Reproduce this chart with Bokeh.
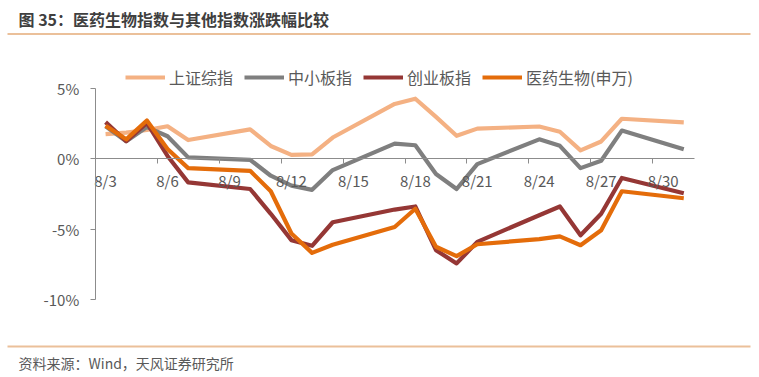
import pandas as pd
from bokeh.plotting import figure
from bokeh.models import (LinearAxis, FixedTicker, PrintfTickFormatter, Legend, LegendItem,
                          Label, BoxAnnotation, ColumnDataSource, Range1d)
from bokeh.embed import file_html
from bokeh.resources import INLINE

# ---------------- data ----------------
dates = ["2020-08-03", "2020-08-04", "2020-08-05", "2020-08-06", "2020-08-07",
         "2020-08-10", "2020-08-11", "2020-08-12", "2020-08-13", "2020-08-14",
         "2020-08-17", "2020-08-18", "2020-08-19", "2020-08-20", "2020-08-21",
         "2020-08-24", "2020-08-25", "2020-08-26", "2020-08-27", "2020-08-28",
         "2020-08-31"]

sse = [1.75, 1.86, 2.04, 2.31, 1.33, 2.09, 0.91, 0.28, 0.32, 1.51,
       3.89, 4.26, 2.97, 1.63, 2.14, 2.29, 1.92, 0.60, 1.23, 2.84, 2.59]
sme = [2.30, 1.25, 2.25, 1.60, 0.10, -0.07, -1.20, -1.90, -2.20, -0.80,
       1.08, 0.96, -1.08, -2.14, -0.38, 1.38, 0.92, -0.66, -0.14, 2.00, 0.68]
chinext = [2.60, 1.25, 2.55, 0.20, -1.67, -2.14, -3.90, -5.77, -6.17, -4.50,
           -3.60, -3.38, -6.48, -7.42, -5.89, -4.00, -3.38, -5.42, -3.90, -1.36, -2.44]
pharma = [2.35, 1.38, 2.72, 0.70, -0.66, -0.85, -2.30, -5.30, -6.67, -6.10,
          -4.84, -3.54, -6.24, -6.90, -6.06, -5.70, -5.50, -6.13, -5.07, -2.30, -2.80]

series_names = ["上证综指", "中小板指", "创业板指", "医药生物(申万)"]
series_colors = ["#F4B183", "#7F7F7F", "#953735", "#E46C0A"]

x_tick_days = [3, 6, 9, 12, 15, 18, 21, 24, 27, 30]
x_tick_labels = ["8/3", "8/6", "8/9", "8/12", "8/15", "8/18", "8/21", "8/24", "8/27", "8/30"]
y_ticks = [-10, -5, 0, 5]

title_text = "图 35：医药生物指数与其他指数涨跌幅比较"
source_text = "资料来源：Wind，天风证券研究所"

# ---------------- layout (pixels) ----------------
W, H = 755, 373
PL, PR, PT, PB = 94.75, 693.6, 87.8, 299.3   # plot area in canvas pixels
XD = (2.5, 31.5)        # x domain of the plot area (days of August)
YD = (-10.0, 5.0)       # y domain (percent)

kx = (PR - PL) / (XD[1] - XD[0])
ky = (PB - PT) / (YD[1] - YD[0])
x_range = Range1d(XD[0] - PL / kx, XD[1] + (W - PR) / kx)
y_range = Range1d(YD[0] - (H - PB) / ky, YD[1] + PT / ky)

day = list(pd.to_datetime(dates).day)
src = ColumnDataSource(dict(x=day, sse=sse, sme=sme, chinext=chinext, pharma=pharma))

FONT = "Noto Sans CJK SC"
TXT = "#595959"
AX = "#8C8C8C"

p = figure(width=W, height=H, output_backend="svg", toolbar_location=None,
           x_range=x_range, y_range=y_range,
           x_axis_location=None, y_axis_location=None,
           min_border=0, min_border_left=0, min_border_right=0,
           min_border_top=0, min_border_bottom=0)
p.outline_line_color = None
p.grid.visible = False
p.background_fill_color = "white"
p.border_fill_color = "white"

# y axis (fixed at left edge of the plot area)
ya = LinearAxis(fixed_location=XD[0], bounds=YD, ticker=FixedTicker(ticks=y_ticks),
                formatter=PrintfTickFormatter(format="%d%%"))
ya.axis_line_color = AX
ya.major_tick_line_color = AX
ya.major_tick_out = 5
ya.major_tick_in = 0
ya.minor_tick_line_color = None
ya.major_label_standoff = 11
ya.major_label_text_font = FONT
ya.major_label_text_font_size = "15px"
ya.major_label_text_color = TXT
p.add_layout(ya, "left")

# x axis at y=0: one for tick marks (at day boundaries), one for labels
xa_ticks = LinearAxis(fixed_location=0, bounds=XD,
                      ticker=FixedTicker(ticks=[d - 0.5 for d in x_tick_days]))
xa_ticks.axis_line_color = AX
xa_ticks.major_tick_line_color = AX
xa_ticks.major_tick_out = 5
xa_ticks.major_tick_in = 0
xa_ticks.minor_tick_line_color = None
xa_ticks.major_label_text_alpha = 0
xa_ticks.major_label_text_font_size = "1px"
p.add_layout(xa_ticks, "below")

xa_lab = LinearAxis(fixed_location=0, ticker=FixedTicker(ticks=x_tick_days))
xa_lab.major_label_overrides = {d: l for d, l in zip(x_tick_days, x_tick_labels)}
xa_lab.axis_line_color = None
xa_lab.major_tick_line_color = None
xa_lab.minor_tick_line_color = None
xa_lab.major_tick_out = 0
xa_lab.major_label_standoff = 11
xa_lab.major_label_text_font = FONT
xa_lab.major_label_text_font_size = "15px"
xa_lab.major_label_text_color = TXT
p.add_layout(xa_lab, "below")

# lines
cols = ["sse", "sme", "chinext", "pharma"]
items = []
for c, name, color in zip(cols, series_names, series_colors):
    r = p.line("x", c, source=src, line_color=color, line_width=4.2, line_join="round")
    items.append(LegendItem(label=name, renderers=[r]))

legend = Legend(items=items, orientation="horizontal", location=(125, H - 89),
                glyph_width=40, glyph_height=20, label_height=20, label_standoff=4,
                spacing=11, padding=0, margin=0, border_line_color=None,
                background_fill_alpha=0, label_text_font=FONT,
                label_text_font_size="16px", label_text_color=TXT)
p.add_layout(legend, "center")

# title, source, rules (screen units: from canvas left / bottom)
p.add_layout(Label(x=18, y=H - 18, x_units="screen", y_units="screen", text=title_text,
                   text_font=FONT, text_font_size="16px", text_font_style="bold",
                   text_color="#3F3F3F", text_baseline="middle"))
p.add_layout(Label(x=18, y=H - 362, x_units="screen", y_units="screen", text=source_text,
                   text_font=FONT, text_font_size="14px", text_color=TXT,
                   text_baseline="middle"))
for ys in (33.5, 346):
    p.add_layout(BoxAnnotation(left=7, right=750, top=H - ys + 1, bottom=H - ys - 1,
                               left_units="screen", right_units="screen",
                               top_units="screen", bottom_units="screen",
                               fill_color="#EBC09A", fill_alpha=1, line_color=None))

open("out.html", "w").write(file_html(p, INLINE))
